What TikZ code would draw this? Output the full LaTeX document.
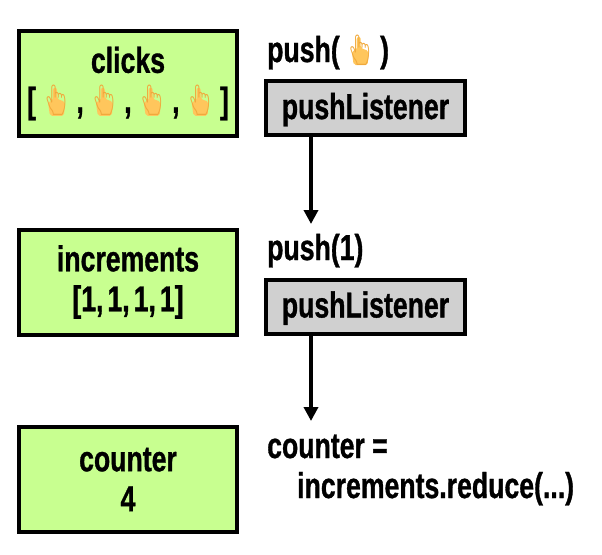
\documentclass[tikz,border=0pt]{standalone}
\usepackage{fontspec}
\setmainfont{Liberation Sans}[BoldFeatures = {FakeBold = 0.9}, FakeStretch = 0.74]
\newfontfamily\emojifont{Noto Emoji}[FakeStretch = 0.8]
\usetikzlibrary{arrows.meta}
\definecolor{boxgreen}{HTML}{C8FF90}
\definecolor{boxgray}{HTML}{D0D0D0}
\definecolor{handcolor}{HTML}{F0A83C}
\definecolor{handfill}{HTML}{FFC65C}
\newcommand{\hand}{\kern 5pt\raisebox{2pt}{\rlap{\tikz[baseline = 0pt, x = 1pt, y = 1pt, overlay]{\fill[handfill, rounded corners = 2pt] (12, 23) -- (12, 10) -- (7, 9) -- (9, -5) -- (23, -5) -- (24, 9) -- (16, 12) -- (16, 23) -- cycle;}}\emojifont\fontsize{30}{30}\selectfont\mdseries\color{handcolor}\symbol{"1F446}}\kern 5pt}
\newcommand{\gap}{\kern 4pt}
\tikzset{
	state/.style = {draw = black, fill = boxgreen, line width = 4pt, minimum width = 218pt, minimum height = 105pt, text width = 210pt, align = center, inner sep = 0pt},
	listener/.style = {draw = black, fill = boxgray, line width = 4pt, minimum width = 199pt, minimum height = 54pt, inner sep = 0pt, text height = 28pt, text depth = 6pt},
	call/.style = {anchor = base west, inner sep = 0pt},
	flow/.style = {line width = 4pt, -{Triangle[length = 14pt, width = 14pt]}}
}
\begin{document}
\begin{tikzpicture}[x = 1pt, y = -1pt, font = \fontsize{36}{40}\selectfont\bfseries]
	\useasboundingbox (0, 0) rectangle (602, 554);
	\foreach \i/\j/\name/\txt in {128/83.5/clicks/{clicks\\{[}\hand,\hand,\hand,\hand{]}}, 128/282/increments/{increments\\{[}1,\gap 1,\gap 1,\gap 1{]}}, 128/479.5/counter/{counter\\4}}{
		\node[state] (\name) at (\i, \j) {\txt};}
	\foreach \j/\name in {108/listenerA, 306.5/listenerB}{
		\node[listener] (\name) at (365.5, \j) {pushListener};}
	\node[call] (pushclick) at (267, 62) {push(\hand)};
	\node[call] (pushone) at (267, 260) {push(1)};
	\node[call] (sumleft) at (267, 458) {counter =};
	\node[call] (sumright) at (297, 498) {increments.reduce(...)};
	\coordinate (tipA) at (311, 224);
	\coordinate (tipB) at (311, 421);
	\draw[flow] (listenerA.south -| tipA) -- (tipA);
	\draw[flow] (listenerB.south -| tipB) -- (tipB);
\end{tikzpicture}
\end{document}
